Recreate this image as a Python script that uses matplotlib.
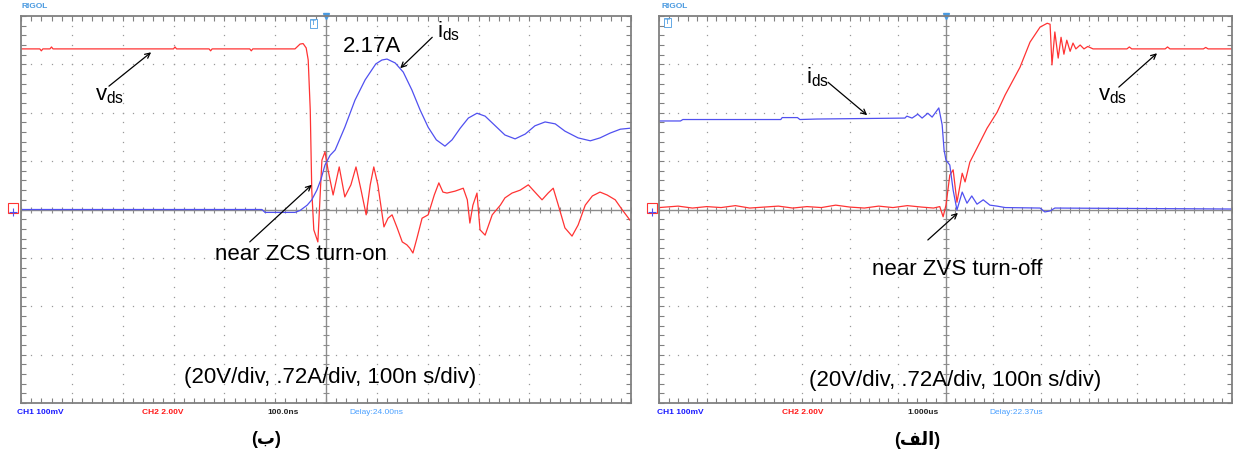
import numpy as np
import matplotlib.pyplot as plt
from matplotlib.ticker import MultipleLocator

plt.rcParams['font.family'] = ['Liberation Sans', 'DejaVu Sans']
plt.rcParams['mathtext.fontset'] = 'custom'
plt.rcParams['mathtext.rm'] = 'Liberation Sans'

# --- data, in screen divisions (x: time div, y: vertical div) ---
# left panel: near ZCS turn-on
zcs_vds_x = [-6.0, -5.63, -5.6, -5.57, -5.43, -5.4, -5.37, -3.0, -2.97, -2.94, -2.3, -2.27, -2.24,
             -1.5, -1.47, -1.44, -0.61, -0.51,
             -0.45, -0.39, -0.35, -0.31, -0.28, -0.24, -0.16, -0.12, -0.08, -0.02, 0.04, 0.14, 0.26,
             0.37, 0.49, 0.59, 0.69, 0.79, 0.87, 0.94, 1.02, 1.14, 1.22, 1.30, 1.40, 1.50, 1.59,
             1.65, 1.71, 1.79, 1.89, 2.01, 2.13, 2.22, 2.30, 2.38, 2.54, 2.70, 2.78, 2.83, 2.89,
             2.97, 3.03, 3.13, 3.27, 3.43, 3.52, 3.66, 3.82, 3.98, 4.11, 4.25, 4.37, 4.47, 4.57,
             4.70, 4.84, 4.96, 5.10, 5.24, 5.39, 5.53, 5.69, 5.83, 5.98]
zcs_vds_y = [3.32, 3.32, 3.28, 3.32, 3.32, 3.36, 3.32, 3.32, 3.36, 3.32, 3.32, 3.28, 3.32,
             3.32, 3.28, 3.32, 3.32, 3.42,
             3.43, 3.34, 3.09, 2.06, 0.40, -0.42, -0.67, 0.20, 1.02, 1.19, 0.82, 0.30, 0.88,
             0.26, 0.51, 0.88, 0.40, -0.11, 0.51, 0.88, 0.51, -0.36, -0.18, -0.11, -0.38, -0.67, -0.73,
             -0.80, -0.90, -0.59, -0.18, -0.11, 0.30, 0.55, 0.36, 0.34, 0.38, 0.44, 0.20, -0.28, 0.09,
             0.34, -0.42, -0.53, -0.11, 0.09, 0.24, 0.34, 0.40, 0.51, 0.36, 0.20, 0.34, 0.44, 0.09,
             -0.38, -0.55, -0.32, 0.09, 0.28, 0.36, 0.30, 0.20, -0.01, -0.22]
zcs_ids_x = [-6.0, -1.26, -1.2, -0.61, -0.51, -0.37, -0.28, -0.18, -0.10, -0.02, 0.08, 0.18, 0.37,
             0.57, 0.77, 0.98, 1.10, 1.20, 1.36, 1.52, 1.69, 1.85, 2.01, 2.17, 2.34, 2.48, 2.64,
             2.80, 2.97, 3.13, 3.33, 3.52, 3.72, 3.92, 4.11, 4.31, 4.51, 4.70, 4.96, 5.20, 5.39,
             5.59, 5.79, 5.98]
zcs_ids_y = [0.0, 0.0, -0.06, -0.06, -0.02, 0.09, 0.20, 0.40, 0.62, 0.92, 1.12, 1.23, 1.70,
             2.26, 2.68, 3.01, 3.09, 3.11, 3.03, 2.84, 2.47, 2.06, 1.70, 1.44, 1.31, 1.44, 1.68,
             1.89, 1.99, 1.93, 1.73, 1.54, 1.46, 1.56, 1.73, 1.81, 1.77, 1.62, 1.48, 1.42, 1.48,
             1.58, 1.66, 1.68]

# right panel: near ZVS turn-off
zvs_vds_x = [-6.0, -5.6, -5.3, -5.0, -4.7, -4.4, -4.1, -3.8, -3.5, -3.2, -2.9, -2.6, -2.3, -2.0,
             -1.7, -1.4, -1.1, -0.8, -0.5, -0.25, -0.12, -0.05, 0.01, 0.09, 0.16, 0.24, 0.35, 0.41,
             0.51, 0.66, 0.87, 1.08, 1.25, 1.56, 1.77, 1.98, 2.13, 2.19, 2.23, 2.29, 2.36, 2.42,
             2.48, 2.54, 2.61, 2.67, 2.73, 2.82, 2.90, 2.98, 3.09, 3.5, 3.8, 3.85, 3.9, 4.6,
             4.65, 4.7, 5.4, 5.45, 5.5, 6.0]
zvs_vds_y = [0.04, 0.07, 0.03, 0.06, 0.04, 0.08, 0.03, 0.05, 0.07, 0.03, 0.06, 0.04, 0.09, 0.05,
             0.03, 0.07, 0.04, 0.08, 0.05, 0.03, 0.06, -0.15, 0.09, 0.71, 0.82, 0.15, 0.75, 0.57,
             0.98, 1.27, 1.68, 2.01, 2.37, 2.94, 3.46, 3.77, 3.85, 3.83, 2.99, 3.67, 3.13, 3.56,
             3.21, 3.50, 3.27, 3.44, 3.32, 3.40, 3.32, 3.37, 3.32, 3.32, 3.32, 3.36, 3.32, 3.32,
             3.36, 3.32, 3.32, 3.35, 3.32, 3.32]
zvs_ids_x = [-6.0, -5.55, -5.5, -3.45, -3.42, -3.1, -3.05, -2.7, -0.85, -0.81, -0.70, -0.58, -0.49,
             -0.37, -0.28, -0.14, -0.07, -0.03, 0.01, 0.09, 0.16, 0.24, 0.35, 0.45, 0.55, 0.66,
             0.79, 0.93, 1.08, 1.25, 1.98, 2.08, 2.19, 2.29, 6.0]
zvs_ids_y = [1.83, 1.83, 1.86, 1.86, 1.90, 1.90, 1.86, 1.87, 1.89, 1.93, 1.89, 1.97, 1.89,
             1.99, 1.91, 2.10, 1.75, 1.23, 1.02, 0.92, 0.40, -0.01, 0.36, 0.13, 0.28, 0.11,
             0.20, 0.09, 0.07, 0.04, 0.03, -0.05, -0.03, 0.03, 0.01]

RED = '#ff3333'
BLUE = '#5050f0'
GRID = '#9a9a9a'
ICON = '#4a9ae0'

W, H = 1233, 455
fig = plt.figure(figsize=(W / 100, H / 100), dpi=100)


def scope_axes(left_px, width_px):
    ax = fig.add_axes([left_px / W, 52 / H, width_px / W, 387 / H])
    ax.set_xlim(-6, 6)
    ax.set_ylim(-4, 4)
    for s in ax.spines.values():
        s.set_color('#808080')
        s.set_linewidth(1.3)
    ax.xaxis.set_major_locator(MultipleLocator(1))
    ax.xaxis.set_minor_locator(MultipleLocator(0.2))
    ax.yaxis.set_major_locator(MultipleLocator(1))
    ax.yaxis.set_minor_locator(MultipleLocator(0.2))
    ax.tick_params(which='both', direction='in', length=3.5, width=0.8, color='#808080',
                   top=True, right=True, labelbottom=False, labelleft=False)
    # dotted graticule
    xs = np.arange(-6, 6.01, 0.2)
    ys = np.arange(-4, 4.01, 0.2)
    for k in range(-3, 4):
        if k != 0:
            ax.plot(xs, np.full_like(xs, k), ls='none', marker='s', ms=0.9, color=GRID, mew=0)
    for k in range(-5, 6):
        if k != 0:
            ax.plot(np.full_like(ys, k), ys, ls='none', marker='s', ms=0.9, color=GRID, mew=0)
    # centre cross with ticks
    ax.axhline(0, color='#8c8c8c', lw=1)
    ax.axvline(0, color='#8c8c8c', lw=1)
    ax.plot(xs, np.zeros_like(xs), ls='none', marker='|', ms=4, color='#8c8c8c', mew=0.8)
    ax.plot(np.zeros_like(ys), ys, ls='none', marker='_', ms=4, color='#8c8c8c', mew=0.8)
    # ground markers at left edge
    ax.plot([-6.15], [0.03], marker='s', ms=7, mfc='none', mec=RED, mew=0.8, clip_on=False)
    ax.plot([-6.15], [-0.05], marker='+', ms=6, color=BLUE, mew=0.8, clip_on=False)
    ax.plot([0], [4.0], marker='v', ms=5, color=ICON, clip_on=False)
    return ax


def annot(ax, xy, xytext):
    ax.annotate('', xy=xy, xytext=xytext,
                arrowprops=dict(arrowstyle='->', color='black', lw=0.9, shrinkA=0, shrinkB=0,
                                mutation_scale=9))


txt = dict(fontsize=16, ha='center', va='center', color='black')

# ---------- left panel ----------
axl = scope_axes(21, 610)
axl.plot(zcs_vds_x, zcs_vds_y, color=RED, lw=0.9)
axl.plot(zcs_ids_x, zcs_ids_y, color=BLUE, lw=0.9)
axl.text(-0.24, 3.85, 'T', fontsize=6, color=ICON, ha='center', va='center',
         bbox=dict(boxstyle='square,pad=0.1', fc='white', ec=ICON, lw=0.6))
axl.text(-4.25, 2.36, r'v$_{\mathrm{ds}}$', **txt)
annot(axl, (-3.44, 3.25), (-4.27, 2.55))
axl.text(2.42, 3.68, r'i$_{\mathrm{ds}}$', **txt)
annot(axl, (1.46, 2.92), (2.09, 3.56))
axl.text(0.91, 3.36, '2.17A', **txt)
axl.text(-0.49, -0.92, 'near ZCS turn-on', **txt)
annot(axl, (-0.28, 0.51), (-1.50, -0.67))
axl.text(0.08, -3.48, '(20V/div, .72A/div, 100n s/div)', **txt)

# ---------- right panel ----------
axr = scope_axes(659, 573)
axr.plot(zvs_vds_x, zvs_vds_y, color=RED, lw=0.9)
axr.plot(zvs_ids_x, zvs_ids_y, color=BLUE, lw=0.9)
axr.text(-5.83, 3.87, 'T', fontsize=6, color=ICON, ha='center', va='center',
         bbox=dict(boxstyle='square,pad=0.1', fc='white', ec=ICON, lw=0.6))
axr.text(-2.69, 2.74, r'i$_{\mathrm{ds}}$', **txt)
annot(axr, (-1.64, 1.95), (-2.46, 2.63))
axr.text(3.49, 2.36, r'v$_{\mathrm{ds}}$', **txt)
annot(axr, (4.43, 3.23), (3.63, 2.53))
axr.text(0.24, -1.25, 'near ZVS turn-off', **txt)
annot(axr, (0.26, -0.07), (-0.37, -0.63))
axr.text(0.2, -3.54, '(20V/div, .72A/div, 100n s/div)', **txt)

# ---------- scope status text ----------
small = dict(fontsize=6, fontweight='bold', va='center', ha='left')
for x0, base, delay in [(17, '100.0ns', 'Delay:24.00ns'), (657, '1.000us', 'Delay:22.37us')]:
    fig.text(x0 / W, 1 - 413 / H, 'CH1 100mV', color='#1a1aff', **small)
    fig.text((x0 + 125) / W, 1 - 413 / H, 'CH2 2.00V', color='#ff1a1a', **small)
    fig.text((x0 + 250) / W, 1 - 413 / H, base, color='#222222', **small)
    fig.text((x0 + 332) / W, 1 - 413 / H, delay, color='#4aa0ff', fontsize=6, va='center', ha='left')
    fig.text((x0 + 4) / W, 1 - 7 / H, 'RIGOL', color=ICON, **small)

fig.text(266 / W, 1 - 440 / H, '(\u0628)', fontsize=13, fontweight='bold', ha='center', va='center')
fig.text(917 / W, 1 - 440 / H, '(\ufed2\ufedf\u0627)', fontsize=13, fontweight='bold',
         ha='center', va='center')

fig.savefig('out.png', dpi=100)
